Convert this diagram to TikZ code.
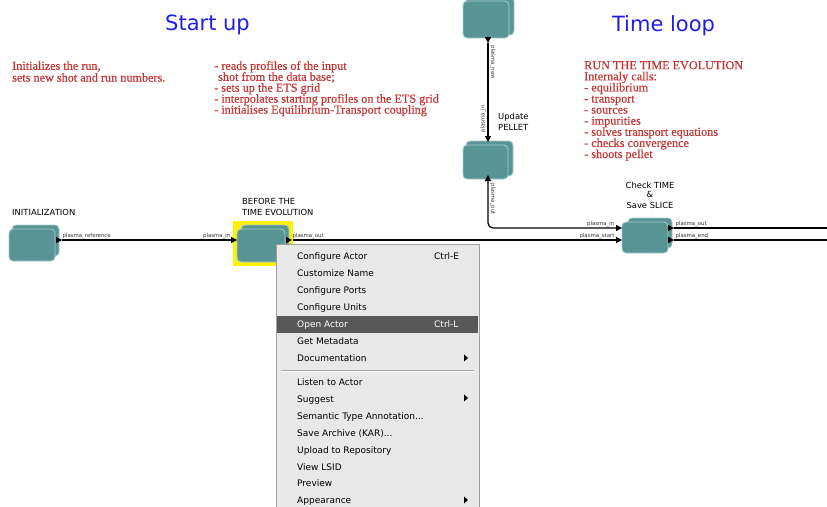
\documentclass[tikz,border=0pt]{standalone}
\usepackage{fontspec}
\setmainfont{Liberation Serif}
\newfontfamily\uifont{DejaVu Sans}
\newfontfamily\notefont[FakeBold=0.35]{Liberation Serif}
\definecolor{noteRed}{RGB}{196,52,52}
\definecolor{titleBlue}{RGB}{30,30,232}
\definecolor{actorFill}{RGB}{88,148,148}
\definecolor{actorEdge}{RGB}{165,205,205}
\definecolor{menuBg}{RGB}{232,232,232}
\definecolor{menuEdge}{RGB}{160,160,160}
\definecolor{menuHi}{RGB}{88,88,88}
\tikzset{
  title/.style={font=\uifont\fontsize{21}{24}\selectfont, text=titleBlue, inner sep=0pt, anchor=base},
  note/.style={font=\notefont\fontsize{12.2}{11}\selectfont, text=noteRed, inner sep=0pt, anchor=base west},
  actorlabel/.style={font=\uifont\fontsize{8.4}{10}\selectfont, inner sep=0pt},
  portlabel/.style={font=\uifont\fontsize{5.4}{6}\selectfont, text=black!80, inner sep=0.4pt},
  actorback/.style={fill=actorFill, draw=actorEdge, line width=0.8pt, rounded corners=4pt},
  actorfront/.style={fill=actorFill, draw=actorEdge, line width=0.8pt, rounded corners=4pt, inner sep=0pt},
  link/.style={draw=black, line width=1.3pt},
  menuitem/.style={font=\uifont\fontsize{9}{11}\selectfont, inner sep=0pt, anchor=base west},
  pr/.pic={\fill[black] (0,-3.2) -- (6,0) -- (0,3.2) -- cycle;},
  pd/.pic={\fill[black] (-3.2,0) -- (0,6) -- (3.2,0) -- cycle;},
  pu/.pic={\fill[black] (-3.2,0) -- (0,-6) -- (3.2,0) -- cycle;},
}
\begin{document}
\begin{tikzpicture}[x=1pt, y=-1pt]
\useasboundingbox[fill=white] (0,0) rectangle (827,506);

% section titles
\node[title] (tstart) at (207.5,30.5) {Start up};
\node[title] (tloop) at (663.5,31) {Time loop};

% explanatory notes
\foreach \t [count=\i] in {{Initializes the run,},{sets new shot and run numbers.}}
  \node[note] (nl\i) at (12,{69.8+11.8*(\i-1)}) {\t};
\foreach \t [count=\i] in {{- reads profiles of the input},{\hspace{4pt}shot from the data base;},{- sets up the ETS grid},{- interpolates starting profiles on the ETS grid},{- initialises Equilibrium-Transport coupling}}
  \node[note] (nm\i) at (214,{69.8+10.95*(\i-1)}) {\t};
\foreach \t [count=\i] in {{RUN THE TIME EVOLUTION},{Internaly calls:},{- equilibrium},{- transport},{- sources},{- impurities},{- solves transport equations},{- checks convergence},{- shoots pellet}}
  \node[note] (nr\i) at (584,{69.2+11.1*(\i-1)}) {\t};

% port positions
\coordinate (initout) at (62,240);
\coordinate (befin) at (231,240);
\coordinate (befout) at (292,240);
\coordinate (chkin) at (616,228);
\coordinate (chkstart) at (616,240);
\coordinate (chkout) at (674,228);
\coordinate (chkend) at (674,240);
\coordinate (pnewout) at (488,43);
\coordinate (pelin) at (488,136);
\coordinate (pelout) at (488,181);
\coordinate (edgeA) at (827,228);
\coordinate (edgeB) at (827,240);

% links
\draw[link] (initout) -- (befin);
\draw[link] (befout) -- (chkstart);
\draw[link] (pnewout) -- (pelin);
\draw[link, rounded corners=5pt] (pelout) -- (pelout |- chkin) -- (chkin);
\draw[link] (chkout) -- (edgeA);
\draw[link] (chkend) -- (edgeB);

% selection highlight
\fill[yellow] (233,221) rectangle (293,266);

% actors
\draw[actorback] (12,225) rectangle (59,256);
\node[actorfront, minimum width=46, minimum height=32] (init) at (32,245) {};
\draw[actorback] (241,225) rectangle (289,257);
\node[actorfront, minimum width=48, minimum height=33] (before) at (261,245.5) {};
\draw[actorback] (628,218) rectangle (672,248);
\node[actorfront, minimum width=46, minimum height=31] (check) at (645,237.5) {};
\draw[actorback] (466,-3) rectangle (514,35);
\node[actorfront, minimum width=46, minimum height=37] (pnew) at (486,19.5) {};
\draw[actorback] (466,141) rectangle (513,176);
\node[actorfront, minimum width=45, minimum height=34] (pellet) at (485.5,162) {};

% ports
\pic at (56,240) {pr};
\pic at (231,240) {pr};
\pic at (286,240) {pr};
\pic at (616,228) {pr};
\pic at (616,240) {pr};
\pic at (668,228) {pr};
\pic at (668,240) {pr};
\pic at (488,37) {pd};
\pic at (488,136) {pd};
\pic at (488,181) {pu};

% actor names
\node[actorlabel, anchor=base west] (linit) at (12,215) {INITIALIZATION};
\node[actorlabel, anchor=base west] (lbef1) at (242,204) {BEFORE THE};
\node[actorlabel, anchor=base west] (lbef2) at (242,215) {TIME EVOLUTION};
\node[actorlabel, anchor=base west] (lpel1) at (498,119) {Update};
\node[actorlabel, anchor=base west] (lpel2) at (498,130) {PELLET};
\node[actorlabel, anchor=base] (lchk1) at (650,188) {Check TIME};
\node[actorlabel, anchor=base] (lchk2) at (650,197.5) {\&};
\node[actorlabel, anchor=base] (lchk3) at (650,208) {Save SLICE};

% port names
\node[portlabel, anchor=south west] (p1) at (62,239.2) {plasma\_reference};
\node[portlabel, anchor=south east] (p2) at (231,239.2) {plasma\_in};
\node[portlabel, anchor=south west] (p3) at (292,239.2) {plasma\_out};
\node[portlabel, anchor=south east] (p4) at (615,227.2) {plasma\_in};
\node[portlabel, anchor=south east] (p5) at (615,239.2) {plasma\_start};
\node[portlabel, anchor=south west] (p6) at (675,227.2) {plasma\_out};
\node[portlabel, anchor=south west] (p7) at (675,239.2) {plasma\_end};
\node[portlabel, rotate=-90, anchor=south west] (p8) at (489.5,45) {plasma\_new};
\node[portlabel, rotate=90, anchor=south west] (p9) at (486.5,133) {plasma\_in};
\node[portlabel, rotate=-90, anchor=south west] (p10) at (489.5,183) {plasma\_out};

% context menu
\draw[fill=menuBg, draw=menuEdge, line width=0.6pt] (276,244) rectangle (479,510);
\fill[menuHi] (277,316) rectangle (478,332.5);
\draw[black!35, line width=0.8pt] (281,370) -- (474,370);
\draw[white, line width=0.8pt] (281,371) -- (474,371);
\foreach \t/\yy [count=\i] in {Configure Actor/259, Customize Name/276, Configure Ports/293, Configure Units/310, Get Metadata/344, Documentation/361, Listen to Actor/385, Suggest/402, Upload to Repository/453, View LSID/470, Preview/486.5, Appearance/503}
  \node[menuitem] (m\i) at (297,\yy) {\t};
\node[menuitem] (msem) at (297,419) {Semantic Type Annotation...};
\node[menuitem] (mkar) at (297,436) {Save Archive (KAR)...};
\node[menuitem, text=white] (mopen) at (297,327) {Open Actor};
\node[menuitem] (kE) at (434,259) {Ctrl-E};
\node[menuitem, text=white] (kL) at (434,327) {Ctrl-L};
\foreach \yy in {358,398,500}
  \fill[black] (464,\yy-3.5) -- (468,\yy) -- (464,\yy+3.5) -- cycle;
\end{tikzpicture}
\end{document}
